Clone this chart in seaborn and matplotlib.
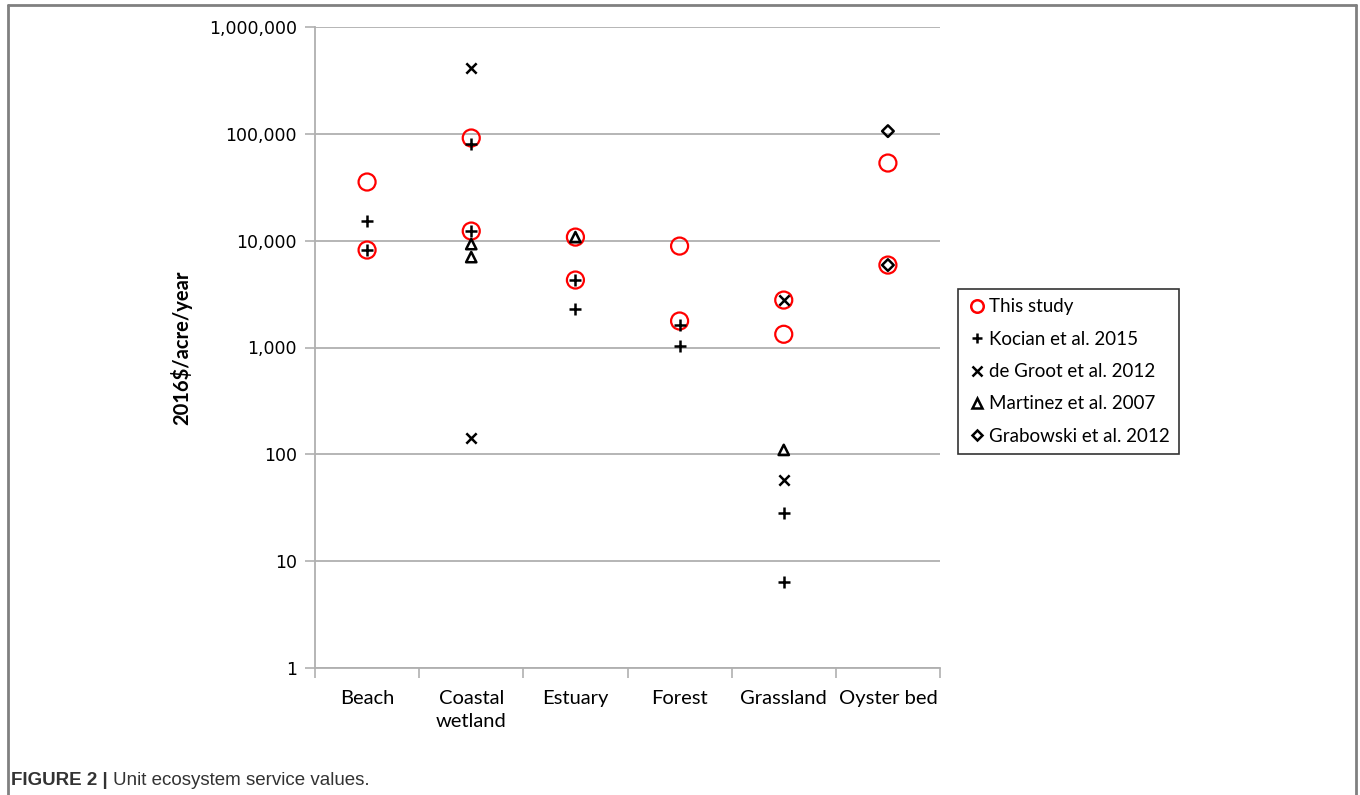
import numpy as np
import pandas as pd
import seaborn as sns
import matplotlib.pyplot as plt
from matplotlib.lines import Line2D
from matplotlib.ticker import FuncFormatter, FixedLocator

# habitat categories
categories = ["Beach", "Coastal\nwetland", "Estuary", "Forest", "Grassland", "Oyster bed"]
source_names = ["This study", "Kocian et al. 2015", "de Groot et al. 2012",
                "Martinez et al. 2007", "Grabowski et al. 2012"]

# values (2016$/acre/year)
this_study_cat = ["Beach", "Beach", "Coastal\nwetland", "Coastal\nwetland", "Estuary", "Estuary",
                  "Forest", "Forest", "Grassland", "Grassland", "Oyster bed", "Oyster bed"]
this_study_val = [35400, 8170, 91400, 12300, 10800, 4280, 8900, 1770, 2780, 1330, 53300, 5910]

kocian_cat = ["Beach", "Beach", "Coastal\nwetland", "Coastal\nwetland", "Estuary", "Estuary",
              "Forest", "Forest", "Grassland", "Grassland"]
kocian_val = [15300, 8170, 80200, 12300, 4280, 2290, 1620, 1030, 28, 6.4]

degroot_cat = ["Coastal\nwetland", "Coastal\nwetland", "Grassland", "Grassland"]
degroot_val = [413000, 142, 2780, 57]

martinez_cat = ["Coastal\nwetland", "Coastal\nwetland", "Estuary", "Grassland"]
martinez_val = [9290, 7020, 10800, 110]

grabowski_cat = ["Oyster bed", "Oyster bed"]
grabowski_val = [106000, 5910]

y_ticks = [1, 10, 100, 1000, 10000, 100000, 1000000]

frames = []
for name, cats, vals in zip(source_names,
                            [this_study_cat, kocian_cat, degroot_cat, martinez_cat, grabowski_cat],
                            [this_study_val, kocian_val, degroot_val, martinez_val, grabowski_val]):
    frames.append(pd.DataFrame({"habitat": cats, "value": vals, "source": name}))
df = pd.concat(frames, ignore_index=True)
df["habitat"] = pd.Categorical(df["habitat"], categories=categories, ordered=True)

sns.set_theme(style="white")
plt.rcParams['font.family'] = ['Lato', 'DejaVu Sans']
plt.rcParams['text.color'] = 'black'
plt.rcParams['xtick.color'] = 'black'
plt.rcParams['ytick.color'] = 'black'
plt.rcParams['axes.labelcolor'] = 'black'

fig = plt.figure(figsize=(13.6, 7.95), dpi=100)
ax = fig.add_axes([315 / 1360, 1 - 668 / 795, 625 / 1360, 641 / 795])

styles = {
    "This study": dict(marker="o", s=150, facecolors="none", edgecolors="#ff0000", linewidths=1.6),
    "Kocian et al. 2015": dict(marker="+", s=70, color="black", linewidths=1.8),
    "de Groot et al. 2012": dict(marker="x", s=55, color="black", linewidths=1.8),
    "Martinez et al. 2007": dict(marker="^", s=55, facecolors="none", edgecolors="black", linewidths=1.8),
    "Grabowski et al. 2012": dict(marker="D", s=35, facecolors="none", edgecolors="black", linewidths=1.8),
}

df["xpos"] = df["habitat"].cat.codes
for name in source_names:
    sub = df[df.source == name]
    sns.scatterplot(data=sub, x="xpos", y="value", ax=ax, zorder=3, legend=False, **styles[name])

ax.set_yscale("log")
ax.set_ylim(1, 1000000)
ax.set_xlim(-0.5, 5.5)
ax.yaxis.set_major_locator(FixedLocator(y_ticks))
ax.yaxis.set_minor_locator(FixedLocator([]))
ax.yaxis.set_major_formatter(FuncFormatter(lambda v, p: f"{int(round(v)):,}"))
ax.set_xticks(range(len(categories)))
ax.set_xticklabels(categories, fontsize=14.5, linespacing=1.4)
ax.set_xticks(np.arange(-0.5, 6.0, 1.0), minor=True)
ax.tick_params(axis="x", which="major", length=0, pad=16)
ax.tick_params(axis="x", which="minor", length=7, color="#b0b0b0", width=1.2, direction="out", bottom=True)
ax.tick_params(axis="y", which="major", length=7, color="#b0b0b0", width=1.2, direction="out",
               left=True, labelsize=12.5, pad=6)
for lab in ax.get_yticklabels():
    lab.set_family("DejaVu Sans")

ax.grid(axis="y", color="#b0b0b0", linewidth=1.3)
ax.set_axisbelow(True)
ax.set_xlabel("")
ax.set_ylabel("2016$/acre/year", fontsize=14.5, fontweight="bold", labelpad=12)
for side in ["top", "right"]:
    ax.spines[side].set_visible(False)
for side in ["left", "bottom"]:
    ax.spines[side].set_color("#b0b0b0")
    ax.spines[side].set_linewidth(1.3)

handles = []
for name in source_names:
    st = styles[name]
    if name == "This study":
        h = Line2D([], [], linestyle="none", marker="o", markersize=9, markerfacecolor="none",
                   markeredgecolor="#ff0000", markeredgewidth=1.8)
    elif st["marker"] in ("+", "x"):
        h = Line2D([], [], linestyle="none", marker=st["marker"], markersize=7,
                   color="black", markeredgewidth=1.8)
    else:
        h = Line2D([], [], linestyle="none", marker=st["marker"],
                   markersize=6.5 if st["marker"] == "^" else 5.5,
                   markerfacecolor="none", markeredgecolor="black", markeredgewidth=1.8)
    handles.append(h)
leg = fig.legend(handles, source_names, loc="upper left", bbox_to_anchor=(958 / 1360, 1 - 289 / 795),
                 frameon=True, fancybox=False, fontsize=13.5, handletextpad=0.15, handlelength=1.0,
                 labelspacing=0.82, borderpad=0.5, borderaxespad=0)
leg.get_frame().set_edgecolor("black")
leg.get_frame().set_linewidth(1.2)

# page frame of the figure panel
frame_kw = dict(color="#808080", linewidth=2, transform=fig.transFigure)
fig.add_artist(Line2D([8 / 1360, 1356 / 1360], [1 - 5 / 795, 1 - 5 / 795], **frame_kw))
fig.add_artist(Line2D([8 / 1360, 8 / 1360], [0, 1 - 5 / 795], **frame_kw))
fig.add_artist(Line2D([1356 / 1360, 1356 / 1360], [0, 1 - 5 / 795], **frame_kw))

# caption
cap1 = fig.text(11 / 1360, 1 - 785 / 795, "FIGURE 2 |", fontsize=13.5, fontweight="bold",
                color="#333333", va="baseline", family="Liberation Sans")
fig.canvas.draw()
bb = cap1.get_window_extent()
fig.text((bb.x1 + 5) / 1360, 1 - 785 / 795, "Unit ecosystem service values.", fontsize=13.5,
         color="#333333", va="baseline", family="Liberation Sans")

fig.savefig("out.png", dpi=100)
